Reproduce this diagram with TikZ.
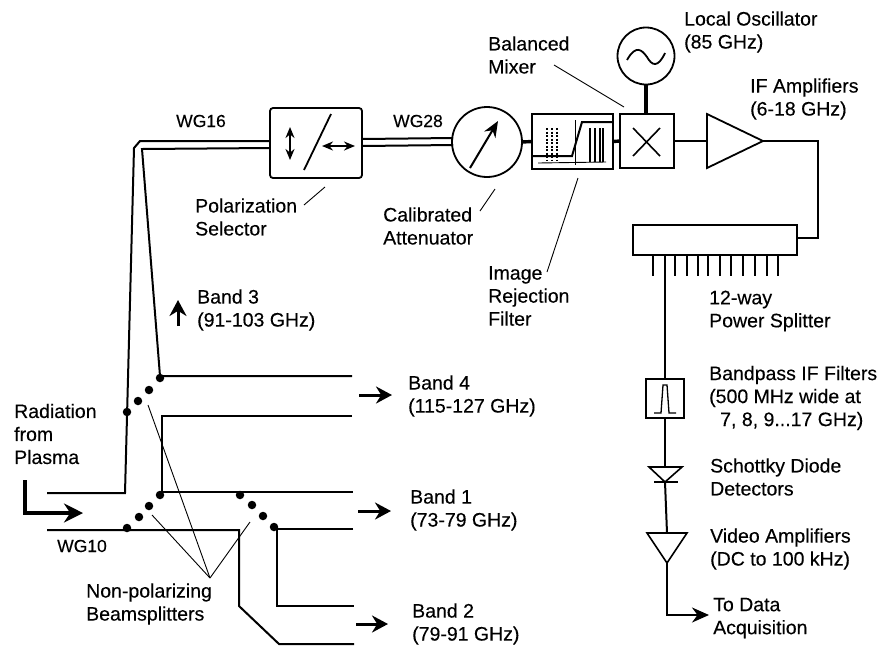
\documentclass[tikz,border=0pt]{standalone}
\usepackage{fontspec}
\setmainfont[FakeBold=0.25]{Liberation Sans}
\usetikzlibrary{arrows.meta}
\tikzset{
  wall/.style={line width=2pt},
  guide/.style={line width=3.4pt},
  leader/.style={line width=0.9pt},
  partbox/.style={draw, line width=1.8pt, inner sep=0pt, outer sep=0pt},
  bigarrow/.style={line width=3pt, -{Stealth[length=16pt,width=17pt]}},
  twoarrow/.style={line width=2pt, {Stealth[length=11pt,width=9pt]}-{Stealth[length=11pt,width=9pt]}},
  bsdot/.style={circle, fill, inner sep=0pt, minimum size=8.5pt},
  lbl/.style={anchor=west, align=left, inner sep=0pt},
  wglbl/.style={lbl, font=\fontsize{17.5}{23}\selectfont}
}
\begin{document}
\begin{tikzpicture}[x=1pt, y=-1pt, every node/.style={font=\fontsize{19.5}{23}\selectfont}]
  \useasboundingbox (0,0) rectangle (890,649);
  % WG10 and the band guides
  \draw[wall] (47,493) -- (125,493) -- (134,148) -- (140,141) -- (270,141);
  \draw[wall] (270,148) -- (142,149) -- (160,376) -- (352,376);
  \draw[wall] (352,416) -- (162,416) -- (162,492) -- (353,492);
  \draw[wall] (47,530) -- (239,530) -- (239,606) -- (279,644) -- (354,644);
  \draw[wall] (353,529) -- (277,529) -- (277,606) -- (354,606);
  % beamsplitter dots
  \foreach \n/\x/\y in {a1/127/412, a2/138/401, a3/149/390, a4/160/378,
      b1/127/528, b2/139/517, b3/149/506, b4/160/495,
      c1/240/495, c2/252/505, c3/263/516, c4/274/527}
    \node[bsdot] (\n) at (\x,\y) {};
  \node[lbl] (nonpol) at (86,604) {Non-polarizing\\Beamsplitters};
  \coordinate (bsjoin) at (210,578);
  \draw[leader] (a3) ++(-1,15) -- (bsjoin);
  \draw[leader] (b3) ++(3,9) -- (bsjoin);
  \draw[leader] (c2) ++(-2,17) -- (bsjoin);
  % band labels and arrows
  \node[lbl] (band3) at (197,310) {Band 3\\(91-103 GHz)};
  \node[lbl] (band4) at (408,396) {Band 4\\(115-127 GHz)};
  \node[lbl] (band1) at (410,510) {Band 1\\(73-79 GHz)};
  \node[lbl] (band2) at (412,624) {Band 2\\(79-91 GHz)};
  \coordinate (up0) at (178,326);
  \coordinate (up1) at (178,300);
  \draw[bigarrow] (up0) -- (up1);
  \coordinate (b4a) at (359,395);
  \coordinate (b4b) at (392,395);
  \draw[bigarrow] (b4a) -- (b4b);
  \coordinate (b1a) at (358,511);
  \coordinate (b1b) at (391,511);
  \draw[bigarrow] (b1a) -- (b1b);
  \coordinate (b2a) at (356,624);
  \coordinate (b2b) at (388,624);
  \draw[bigarrow] (b2a) -- (b2b);
  % input
  \node[lbl] (plasma) at (14,434) {Radiation\\from\\Plasma};
  \node[wglbl] (wg10) at (57,546) {WG10};
  \coordinate (in0) at (25,480);
  \coordinate (in1) at (25,513);
  \coordinate (in2) at (83,513);
  \draw[line width=4pt, -{Stealth[length=19pt,width=19pt]}] (in0) -- (in1) -- (in2);
  % polarization selector
  \node[wglbl] (wg16) at (176,121) {WG16};
  \node[partbox, rounded corners=3pt, minimum width=92pt, minimum height=70pt] (selector) at (316,143) {};
  \coordinate (s0) at (290,127);
  \coordinate (s1) at (290,160);
  \draw[twoarrow] (s0) -- (s1);
  \coordinate (s2) at (304,170);
  \coordinate (s3) at (331,114);
  \draw[line width=1.8pt] (s2) -- (s3);
  \coordinate (s4) at (322,146);
  \coordinate (s5) at (355,146);
  \draw[twoarrow] (s4) -- (s5);
  \node[lbl] (selectortxt) at (195,217) {Polarization\\Selector};
  \coordinate (selfoot) at (325,187);
  \coordinate (selhead) at (304,205);
  \draw[leader] (selhead) -- (selfoot);
  % attenuator
  \node[wglbl] (wg28) at (393,121) {WG28};
  \node[partbox, circle, minimum size=70pt] (atten) at (487,142) {};
  \draw[wall] (selector.east) ++(0,-4) -- ++(91,-1);
  \draw[wall] (selector.east) ++(0,3) -- ++(91,-1);
  \coordinate (p0) at (470,168);
  \coordinate (p1) at (498,121);
  \draw[line width=2pt, -{Stealth[length=16pt,width=13pt]}] (p0) -- (p1);
  \node[lbl] (attentxt) at (383,226) {Calibrated\\Attenuator};
  \coordinate (attfoot) at (495,189);
  \coordinate (atthead) at (480,211);
  \draw[leader] (atthead) -- (attfoot);
  % image rejection filter
  \node[partbox, minimum width=81pt, minimum height=55pt] (filter) at (572.5,141.5) {};
  \draw[guide] (atten) ++(35,0) -- (filter.west);
  \draw[wall] (533,156) -- (572,156) -- (582,122) -- (612,122);
  \draw[line width=0.9pt] (538,163) -- (606,162);
  \draw[line width=0.9pt] (575,120) -- (575,165);
  \foreach \x in {547,552,557}
    \draw[line width=1.8pt, dash pattern=on 2pt off 1.5pt] (\x,128) -- (\x,160);
  \foreach \x in {590,595,600,603}
    \draw[line width=1.2pt] (\x,128) -- (\x,162);
  \node[lbl] (filtertxt) at (488,296) {Image\\Rejection\\Filter};
  \coordinate (filfoot) at (578,178);
  \coordinate (filhead) at (547,272);
  \draw[leader] (filhead) -- (filfoot);
  % mixer and oscillator
  \node[partbox, minimum width=54pt, minimum height=54pt] (mixer) at (647,141) {};
  \draw[guide] (filter) ++(40.5,0) -- (mixer.west);
  \draw[line width=1.6pt] (633,156) -- (660,128) (633,128) -- (660,156);
  \node[partbox, circle, minimum size=57pt] (osc) at (646,56) {};
  \draw[guide] (osc.south) -- (osc.south |- mixer.north);
  \draw[line width=1.8pt] (627,60) .. controls (636,44) and (642,50) .. (647,57)
    .. controls (652,66) and (658,68) .. (665,53);
  \node[lbl] (mixertxt) at (488,55) {Balanced\\Mixer};
  \coordinate (mixfoot) at (624,107);
  \coordinate (mixhead) at (554,65);
  \draw[leader] (mixhead) -- (mixfoot);
  \node[lbl] (osctxt) at (684,32) {Local Oscillator\\(85 GHz)};
  % IF amplifier and splitter
  \coordinate (ifin) at (707,141);
  \coordinate (ifout) at (763,141);
  \draw[line width=1.8pt, fill=white] (707,114) -- (ifout) -- (707,168) -- cycle;
  \draw[wall] (mixer.east) -- (ifin);
  \node[lbl] (iftxt) at (750,99) {IF Amplifiers\\(6-18 GHz)};
  \node[partbox, minimum width=164pt, minimum height=30pt] (splitter) at (715,240) {};
  \coordinate (ifturn) at (818,141);
  \coordinate (ifdown) at (818,238);
  \draw[wall] (ifout) -- (ifturn) -- (ifdown) -- (splitter.east |- ifdown);
  \foreach \x in {653,675,687,698,708,720,731,743,755,767,778}
    \draw[line width=2pt] (\x,255) -- (\x,276);
  \node[lbl] (splittxt) at (709,311) {12-way\\Power Splitter};
  % one IF channel
  \node[partbox, minimum width=38pt, minimum height=39pt] (bpf) at (665,398.5) {};
  \coordinate (tap) at (665,255);
  \draw[wall] (tap) -- (bpf.north);
  \draw[line width=1.3pt] (654,413) -- (661,413) -- (663,385) -- (667,385) -- (669,413) -- (676,413);
  \node[lbl] (bpftxt) at (709,398) {Bandpass IF Filters\\(500 MHz wide at\\\hspace*{11pt}7, 8, 9...17 GHz)};
  \coordinate (dtop) at (665,467);
  \coordinate (dtip) at (665,482);
  \draw[wall] (bpf.south) -- (dtop);
  \draw[line width=1.6pt] (649,467) -- (682,467) -- (dtip) -- cycle;
  \draw[line width=2pt] (654,482) -- (678,482);
  \node[lbl] (diodetxt) at (710,477) {Schottky Diode\\Detectors};
  \coordinate (vtop) at (667,533);
  \coordinate (vtip) at (667,563);
  \draw[wall] (dtip) -- (vtop);
  \draw[line width=1.6pt] (647,533) -- (687,533) -- (vtip) -- cycle;
  \node[lbl] (videotxt) at (710,549) {Video Amplifiers\\(DC to 100 kHz)};
  \node[lbl] (daqtxt) at (713,618) {To Data\\Acquisition};
  \coordinate (vturn) at (667,615);
  \coordinate (vend) at (709,615);
  \draw[line width=2pt, -{Stealth[length=17pt,width=15pt]}] (vtip) -- (vturn) -- (vend);
\end{tikzpicture}
\end{document}
